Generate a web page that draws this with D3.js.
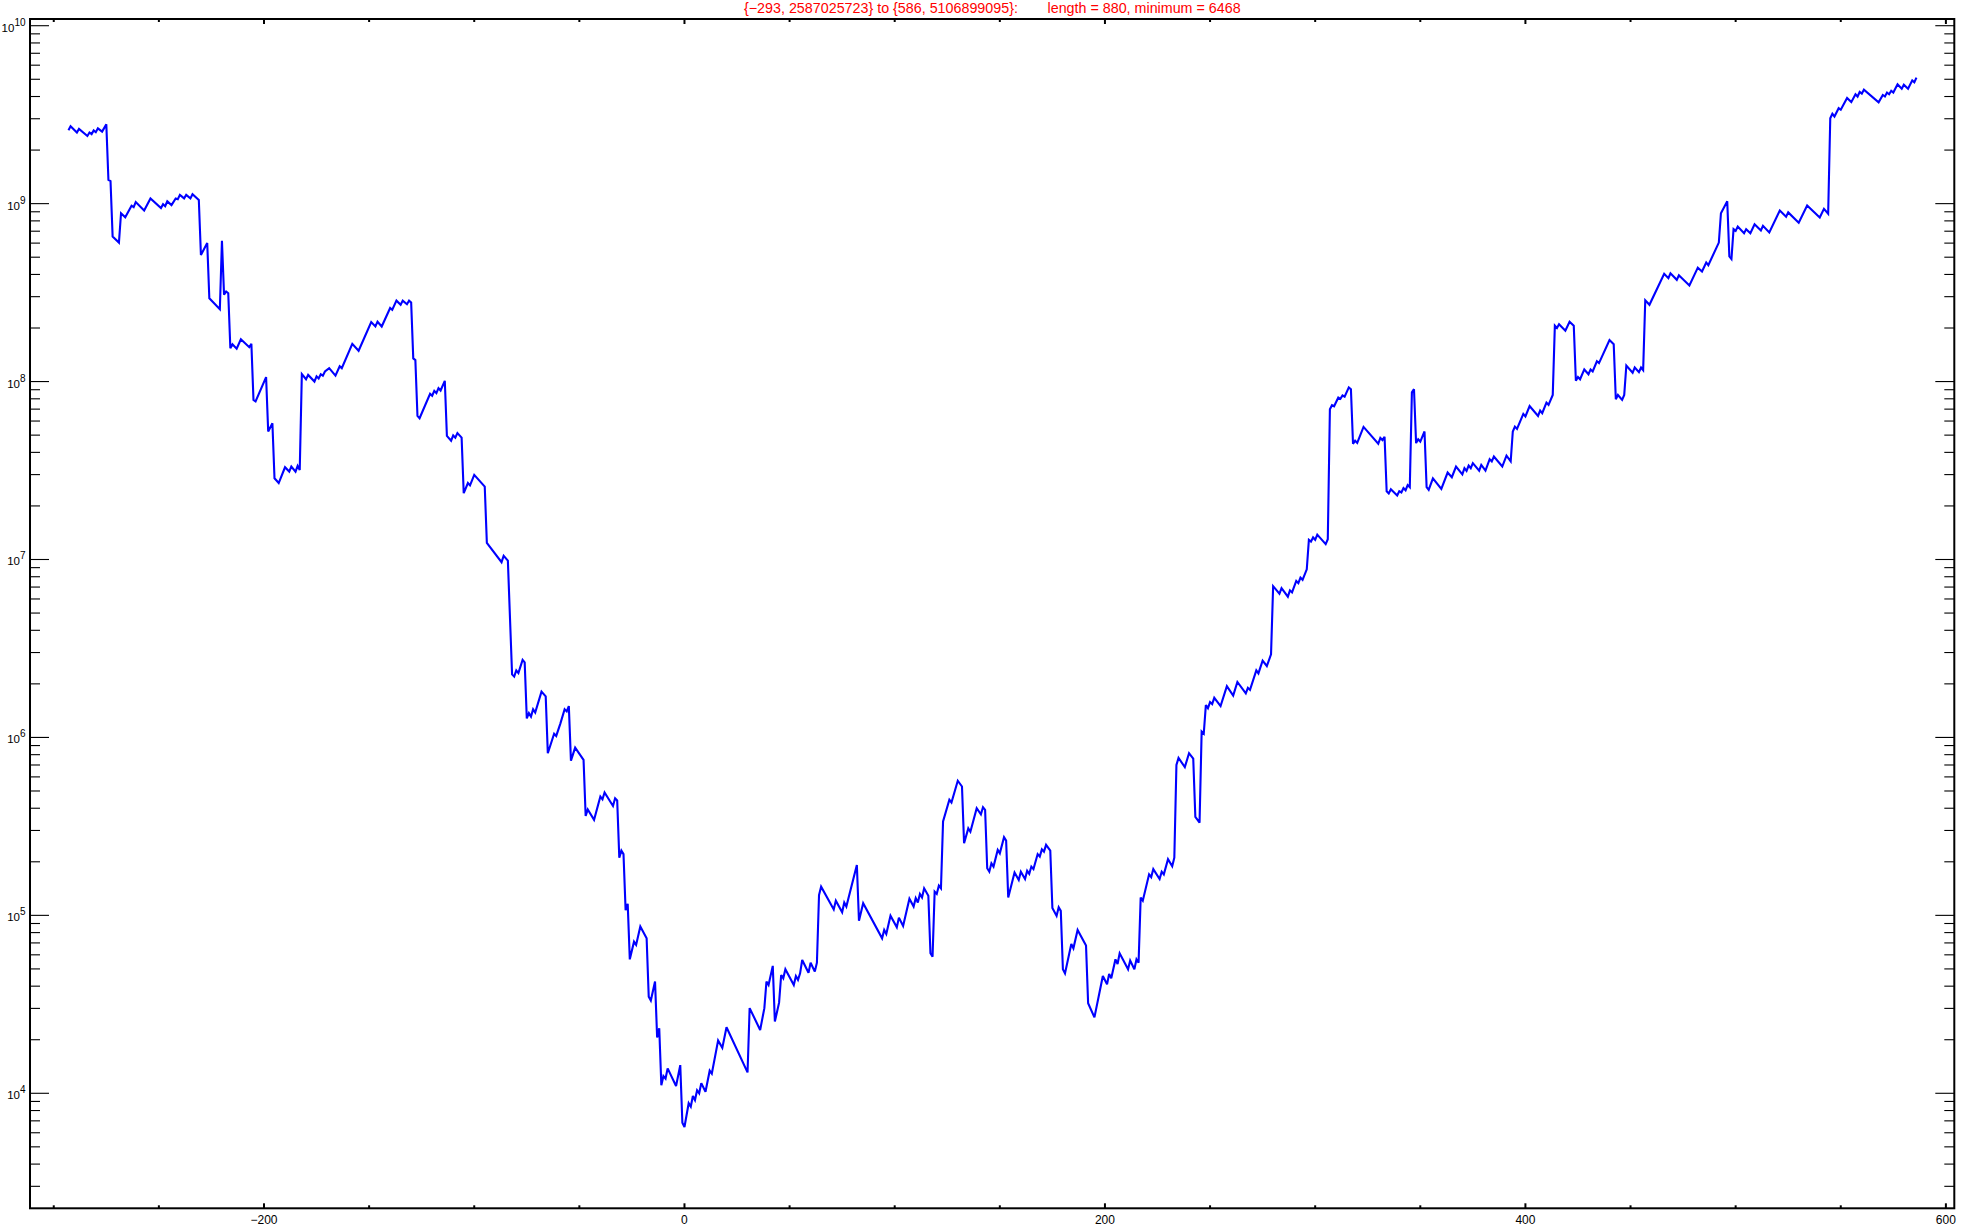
<!DOCTYPE html>
<html><head><meta charset="utf-8">
<script src="https://cdn.jsdelivr.net/npm/d3@7"></script>
<style>html,body{margin:0;padding:0;background:#fff}</style>
</head><body>
<svg id="chart" width="1961" height="1229"></svg>
<script>
// ---- data (x, value) ----
const segmentA = [[-293,2587025723],[-292,2.72e9],[-289,2.51e9],[-288,2.63e9],[-284,2.40e9],[-283,2.51e9],[-282,2.46e9],[-281,2.58e9],[-280,2.52e9],[-279,2.65e9],[-277,2.54e9],[-275,2.79e9],[-274,1.36e9],[-273,1.34e9],[-272,6.53e8],[-269,6.04e8],[-268,8.83e8],[-266,8.39e8],[-263,9.73e8],[-262,9.55e8],[-261,1.02e9],[-257,9.14e8],[-254,1.07e9],[-249,9.44e8],[-248,9.93e8],[-247,9.68e8],[-246,1.03e9],[-244,9.82e8],[-242,1.07e9],[-241,1.06e9],[-240,1.12e9],[-238,1.07e9],[-237,1.12e9],[-235,1.07e9],[-234,1.13e9],[-231,1.05e9],[-230,5.15e8],[-227,6.00e8],[-226,2.94e8],[-221,2.55e8],[-220,6.18e8],[-219,3.08e8],[-218,3.21e8],[-217,3.14e8],[-216,1.54e8],[-215,1.62e8],[-213,1.53e8],[-211,1.73e8],[-207,1.56e8],[-206,1.63e8],[-205,7.89e7],[-204,7.73e7],[-199,1.06e8],[-198,5.24e7],[-196,5.83e7],[-195,2.86e7],[-193,2.69e7],[-190,3.30e7],[-188,3.12e7],[-187,3.33e7],[-185,3.12e7],[-184,3.36e7],[-183,3.18e7],[-182,1.10e8],[-180,1.03e8],[-179,1.09e8],[-176,1.00e8],[-175,1.07e8],[-174,1.04e8],[-173,1.10e8],[-172,1.08e8],[-171,1.14e8],[-169,1.19e8]];
const segmentB = [[-166,1.08e8],[-164,1.22e8],[-163,1.19e8],[-158,1.63e8],[-155,1.49e8],[-149,2.16e8],[-147,2.04e8],[-146,2.17e8],[-144,2.04e8],[-140,2.59e8],[-139,2.53e8],[-137,2.85e8],[-135,2.70e8],[-134,2.85e8],[-132,2.72e8],[-131,2.85e8],[-130,2.78e8],[-129,1.35e8],[-128,1.32e8],[-127,6.41e7],[-126,6.22e7],[-121,8.53e7],[-120,8.32e7],[-119,8.87e7],[-118,8.61e7],[-117,9.18e7],[-116,8.91e7],[-114,1.01e8],[-113,4.95e7],[-111,4.65e7],[-110,4.98e7],[-109,4.84e7],[-108,5.13e7],[-106,4.84e7],[-105,2.36e7],[-103,2.69e7],[-102,2.61e7],[-100,2.99e7],[-95,2.57e7],[-94,1.24e7],[-87,9.66e6],[-86,1.05e7],[-84,9.86e6],[-82,2.26e6],[-81,2.20e6],[-80,2.38e6],[-79,2.30e6],[-77,2.73e6],[-76,2.64e6],[-75,1.28e6],[-74,1.37e6],[-73,1.31e6],[-72,1.44e6],[-71,1.38e6],[-68,1.81e6],[-66,1.70e6],[-65,8.15e5],[-62,1.05e6],[-61,1.02e6],[-59,1.20e6]];
const segmentC = [[-57,1.44e6],[-56,1.40e6],[-55,1.50e6],[-54,7.41e5],[-52,8.77e5],[-48,7.48e5],[-47,3.62e5],[-46,3.94e5],[-43,3.44e5],[-40,4.65e5],[-39,4.49e5],[-38,4.90e5],[-34,4.12e5],[-33,4.55e5],[-32,4.42e5],[-31,2.11e5],[-30,2.31e5],[-29,2.21e5],[-28,1.07e5],[-27,1.16e5],[-26,5.66e4],[-24,7.11e4],[-23,6.82e4],[-21,8.65e4],[-18,7.43e4],[-17,3.49e4],[-16,3.32e4],[-14,4.25e4],[-13,2.06e4],[-12,2.32e4],[-11,1.11e4],[-10,1.25e4],[-9,1.21e4],[-8,1.38e4],[-4,1.10e4],[-2,1.44e4],[-1,6.84e3],[0,6468],[2,8.79e3],[3,8.41e3],[4,9.66e3],[5,9.16e3],[6,1.04e4],[7,1.00e4],[8,1.14e4],[10,1.02e4],[12,1.34e4],[13,1.29e4],[16,1.98e4],[18,1.80e4],[20,2.35e4],[30,1.31e4],[31,3.01e4],[36,2.27e4],[38,3.01e4],[39,4.25e4],[40,4.06e4],[42,5.20e4],[43,2.53e4],[45,3.23e4],[46,4.62e4],[47,4.43e4],[48,4.98e4],[52,4.06e4],[53,4.56e4],[54,4.34e4],[55,4.72e4]];
const segmentD = [[56,5.61e4],[59,4.76e4],[60,5.42e4],[62,4.83e4],[63,5.42e4],[64,1.30e5],[65,1.45e5],[71,1.08e5],[72,1.21e5],[75,1.04e5],[76,1.18e5],[77,1.12e5],[82,1.92e5],[83,9.33e4],[85,1.17e5],[94,7.43e4],[95,8.28e4],[96,7.85e4],[98,9.95e4],[101,8.57e4],[102,9.71e4],[104,8.71e4],[107,1.24e5],[109,1.12e5],[110,1.25e5],[111,1.18e5],[112,1.32e5],[113,1.26e5],[114,1.42e5],[116,1.29e5],[117,6.12e4],[118,5.86e4],[119,1.36e5],[120,1.32e5],[121,1.47e5],[122,1.42e5],[123,3.37e5],[126,4.46e5],[127,4.31e5],[130,5.71e5],[132,5.30e5],[133,2.54e5],[135,3.08e5],[136,2.95e5],[139,4.00e5],[141,3.70e5],[142,4.05e5],[143,3.92e5],[144,1.84e5],[145,1.76e5],[146,1.96e5],[147,1.88e5],[149,2.33e5],[150,2.23e5],[152,2.75e5],[153,2.63e5],[154,1.26e5],[157,1.74e5],[159,1.58e5],[160,1.76e5],[162,1.60e5],[163,1.78e5],[164,1.71e5],[165,1.88e5],[166,1.82e5],[168,2.21e5],[169,2.14e5],[170,2.35e5],[171,2.28e5],[172,2.49e5],[174,2.31e5],[175,1.10e5],[177,9.93e4],[178,1.11e5],[179,1.06e5],[180,4.98e4],[181,4.72e4],[184,6.90e4],[185,6.53e4],[187,8.28e4],[191,6.76e4],[192,3.21e4],[195,2.67e4],[199,4.56e4],[201,4.10e4],[202,4.69e4],[203,4.43e4],[205,5.66e4],[206,5.33e4],[207,6.12e4],[211,4.98e4],[212,5.57e4],[214,4.98e4],[215,5.66e4],[216,5.42e4],[217,1.26e5],[218,1.21e5],[221,1.70e5],[222,1.64e5],[223,1.82e5],[226,1.60e5]];
const segmentE = [[227,1.76e5],[228,1.70e5],[230,2.07e5],[232,1.89e5],[233,2.11e5],[234,7.00e5],[235,7.67e5],[238,6.81e5],[240,8.15e5],[242,7.59e5],[243,3.58e5],[245,3.32e5],[246,1.08e6],[247,1.05e6],[248,1.52e6],[249,1.46e6],[250,1.58e6],[251,1.54e6],[252,1.67e6],[255,1.50e6],[258,1.94e6],[261,1.72e6],[263,2.05e6],[267,1.77e6],[268,1.90e6],[269,1.85e6],[272,2.38e6],[273,2.29e6],[275,2.70e6],[277,2.52e6],[279,2.93e6],[280,7.08e6],[283,6.43e6],[284,6.90e6],[287,6.18e6],[288,6.71e6],[289,6.53e6],[291,7.57e6],[292,7.36e6],[293,7.91e6],[294,7.69e6],[296,8.81e6],[297,1.29e7],[298,1.26e7],[299,1.33e7],[300,1.29e7],[301,1.38e7],[305,1.22e7],[306,1.30e7],[307,6.98e7],[308,7.36e7],[309,7.26e7],[311,8.13e7],[312,8.00e7],[313,8.36e7],[314,8.22e7],[316,9.27e7],[317,9.06e7],[318,4.47e7],[319,4.65e7],[320,4.52e7],[323,5.56e7],[330,4.47e7],[331,4.82e7],[332,4.69e7],[333,4.90e7],[334,2.42e7],[335,2.35e7],[336,2.48e7],[339,2.29e7],[340,2.42e7],[341,2.38e7],[342,2.52e7],[343,2.45e7],[344,2.62e7],[345,2.55e7],[346,8.69e7],[347,9.06e7]];
const segmentF = [[348,4.51e7],[349,4.74e7],[350,4.60e7],[352,5.24e7],[353,2.55e7],[354,2.46e7],[356,2.86e7],[360,2.49e7],[363,3.08e7],[365,2.90e7],[367,3.33e7],[370,3.01e7],[371,3.26e7],[372,3.15e7],[373,3.37e7],[374,3.26e7],[375,3.48e7],[378,3.16e7],[379,3.40e7],[381,3.16e7],[383,3.66e7],[384,3.56e7],[385,3.79e7],[389,3.33e7],[391,3.83e7],[393,3.56e7],[394,5.24e7],[395,5.58e7],[396,5.42e7],[399,6.58e7],[400,6.37e7],[402,7.29e7],[406,6.41e7],[407,6.87e7],[408,6.64e7],[410,7.62e7],[411,7.40e7],[413,8.41e7],[414,2.06e8],[415,2.00e8],[416,2.10e8],[419,1.93e8],[421,2.17e8],[423,2.06e8],[424,1.01e8],[425,1.06e8],[426,1.03e8],[428,1.17e8],[430,1.10e8],[431,1.17e8],[432,1.14e8],[434,1.30e8],[435,1.27e8],[440,1.71e8],[442,1.62e8],[443,7.96e7],[444,8.41e7],[446,7.89e7],[447,8.41e7],[448,1.23e8],[451,1.12e8],[452,1.20e8],[454,1.13e8],[455,1.20e8],[456,1.16e8],[457,2.86e8],[459,2.70e8],[466,4.03e8],[468,3.81e8],[469,4.06e8],[472,3.73e8],[473,3.96e8],[478,3.47e8],[482,4.37e8],[484,4.16e8],[486,4.67e8],[487,4.51e8],[492,6.04e8],[493,8.83e8],[496,1.03e9],[497,5.05e8],[498,4.88e8],[499,7.19e8],[500,7.03e8],[501,7.43e8],[504,6.82e8],[505,7.19e8],[507,6.82e8],[509,7.66e8],[512,7.06e8],[513,7.50e8],[516,6.89e8],[521,9.14e8],[524,8.45e8],[525,8.93e8],[530,7.82e8],[534,9.75e8],[540,8.36e8],[542,9.35e8],[544,8.77e8],[545,3.02e9],[546,3.20e9],[547,3.09e9],[549,3.44e9],[550,3.37e9],[553,3.92e9],[555,3.72e9],[557,4.12e9],[558,4.00e9],[559,4.24e9],[560,4.15e9],[561,4.37e9],[568,3.71e9],[570,4.08e9],[571,4.00e9],[572,4.21e9],[573,4.12e9],[574,4.31e9],[575,4.21e9],[577,4.68e9],[579,4.42e9],[580,4.66e9],[582,4.42e9],[584,4.93e9],[585,4.81e9],[586,5106899095]];

const xTickLabels = [-200, 0, 200, 400, 600];
const xMinorTicks = [-300,-250,-150,-100,-50,50,100,150,250,300,350,450,500,550];
const yTickExponents = [4, 5, 6, 7, 8, 9, 10];
const yMinorMultipliers = [2, 3, 4, 5, 6, 7, 8, 9];
const titleLeft = "{\u2212293, 2587025723} to {586, 5106899095}:";
const titleRight = "length = 880, minimum = 6468";

// ---- drawing ----
const data = [].concat(segmentA, segmentB, segmentC, segmentD, segmentE, segmentF);
const L = 30, R = 1954.3, T = 19, B = 1208.3;
const svg = d3.select("#chart");
const font = "'Liberation Sans', Arial, Helvetica, sans-serif";

const x = d3.scaleLinear().domain([-311.3, 604]).range([L, R]);
const y = d3.scaleLog().domain([Math.pow(10, 3.3536), Math.pow(10, 10.0377)]).range([B, T]);

svg.append("defs").append("clipPath").attr("id", "clip")
  .append("rect").attr("x", L).attr("y", T).attr("width", R - L).attr("height", B - T);

const line = d3.line().x(d => x(d[0])).y(d => y(d[1]));
svg.append("path").datum(data)
  .attr("clip-path", "url(#clip)")
  .attr("d", line)
  .attr("fill", "none")
  .attr("stroke", "#0000ff")
  .attr("stroke-width", 2.1)
  .attr("stroke-linejoin", "miter")
  .attr("stroke-miterlimit", 3);

// y ticks (left & right)
const yMajor = yTickExponents.map(e => Math.pow(10, e));
const yMinor = [];
for (let e = 3; e <= 9; e++) yMinorMultipliers.forEach(m => {
  const v = m * Math.pow(10, e);
  if (v >= y.domain()[0] && v <= y.domain()[1]) yMinor.push(v);
});
const tg = svg.append("g").attr("stroke", "#000").attr("stroke-width", 1.1);
yMajor.forEach(v => {
  const py = y(v);
  tg.append("line").attr("x1", L).attr("x2", L + 19).attr("y1", py).attr("y2", py);
  tg.append("line").attr("x1", R).attr("x2", R - 19).attr("y1", py).attr("y2", py);
});
yMinor.forEach(v => {
  const py = y(v);
  tg.append("line").attr("x1", L).attr("x2", L + 10).attr("y1", py).attr("y2", py);
  tg.append("line").attr("x1", R).attr("x2", R - 10).attr("y1", py).attr("y2", py);
});

// x ticks (bottom & top)
const xg = svg.append("g").attr("stroke", "#000").attr("stroke-width", 2);
xTickLabels.forEach(v => {
  const px = x(v);
  xg.append("line").attr("x1", px).attr("x2", px).attr("y1", B).attr("y2", B - 5);
  xg.append("line").attr("x1", px).attr("x2", px).attr("y1", T).attr("y2", T + 5);
});
xMinorTicks.forEach(v => {
  const px = x(v);
  xg.append("line").attr("x1", px).attr("x2", px).attr("y1", B).attr("y2", B - 3);
  xg.append("line").attr("x1", px).attr("x2", px).attr("y1", T).attr("y2", T + 3);
});

// frame
svg.append("rect").attr("x", L).attr("y", T).attr("width", R - L).attr("height", B - T)
  .attr("fill", "none").attr("stroke", "#000").attr("stroke-width", 2);

// x tick labels
svg.append("g").selectAll("text").data(xTickLabels).join("text")
  .attr("x", d => x(d)).attr("y", 1224)
  .attr("text-anchor", "middle")
  .attr("font-family", font).attr("font-size", 12).attr("fill", "#000")
  .text(d => d < 0 ? "\u2212" + Math.abs(d) : String(d));

// y tick labels 10^n
const yl = svg.append("g");
yTickExponents.forEach(e => {
  const py = y(Math.pow(10, e));
  const t = yl.append("text").attr("x", 25.5).attr("y", py + 6)
    .attr("text-anchor", "end").attr("font-family", font).attr("font-size", 11.5).attr("fill", "#000");
  t.append("tspan").text("10");
  t.append("tspan").attr("dy", -6).attr("font-size", 10).text(String(e));
});

// title
svg.append("text").attr("x", 744).attr("y", 13)
  .attr("font-family", font).attr("font-size", 14.3).attr("fill", "#ff0000").text(titleLeft);
svg.append("text").attr("x", 1047.5).attr("y", 13)
  .attr("font-family", font).attr("font-size", 14.3).attr("fill", "#ff0000").text(titleRight);
</script>
</body></html>
